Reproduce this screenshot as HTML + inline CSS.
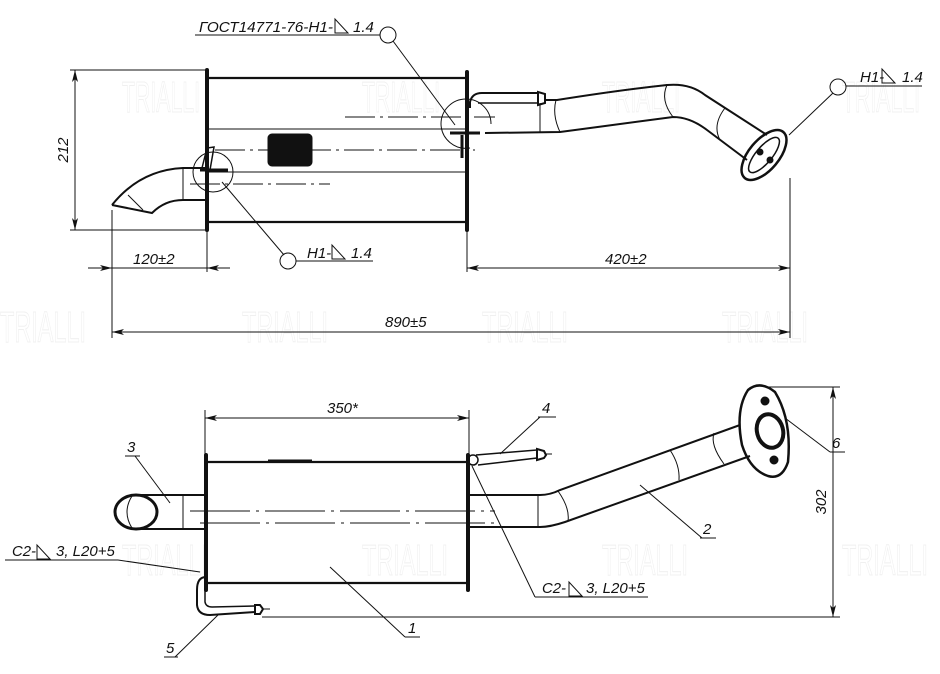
<!DOCTYPE html>
<html><head><meta charset="utf-8"><style>
html,body{margin:0;padding:0;background:#fff;}
svg{display:block;}
text{font-family:"Liberation Sans","DejaVu Sans",sans-serif;font-style:italic;fill:#111;font-size:15px;}
text.wm{font-style:normal;fill:none;stroke:#f0f0f0;stroke-width:1;font-size:44px;}
</style></head><body>
<svg width="940" height="674" viewBox="0 0 940 674" xmlns="http://www.w3.org/2000/svg">
<defs>
<marker id="a" viewBox="0 0 12 6" refX="12" refY="3" markerWidth="12" markerHeight="6" orient="auto-start-reverse" markerUnits="userSpaceOnUse"><path d="M0,0 L12,3 L0,6 L3,3Z" fill="#111"/></marker>
</defs>
<!-- watermarks -->
<g>
<text x="122" y="112" class="wm" textLength="78" lengthAdjust="spacingAndGlyphs">TRIALLI</text><text x="362" y="112" class="wm" textLength="78" lengthAdjust="spacingAndGlyphs">TRIALLI</text><text x="602" y="112" class="wm" textLength="78" lengthAdjust="spacingAndGlyphs">TRIALLI</text><text x="842" y="112" class="wm" textLength="78" lengthAdjust="spacingAndGlyphs">TRIALLI</text>
<text x="0" y="342" class="wm" textLength="86" lengthAdjust="spacingAndGlyphs">TRIALLI</text><text x="242" y="342" class="wm" textLength="86" lengthAdjust="spacingAndGlyphs">TRIALLI</text><text x="482" y="342" class="wm" textLength="86" lengthAdjust="spacingAndGlyphs">TRIALLI</text><text x="722" y="342" class="wm" textLength="86" lengthAdjust="spacingAndGlyphs">TRIALLI</text>
<text x="122" y="575" class="wm" textLength="86" lengthAdjust="spacingAndGlyphs">TRIALLI</text><text x="362" y="575" class="wm" textLength="86" lengthAdjust="spacingAndGlyphs">TRIALLI</text><text x="602" y="575" class="wm" textLength="86" lengthAdjust="spacingAndGlyphs">TRIALLI</text><text x="842" y="575" class="wm" textLength="86" lengthAdjust="spacingAndGlyphs">TRIALLI</text>
</g>
<g stroke="#111" fill="none" stroke-width="1">
<!-- TOP VIEW -->
<line x1="70" y1="70" x2="205" y2="70"/><line x1="70" y1="230" x2="205" y2="230"/>
<line x1="75" y1="70" x2="75" y2="230" marker-start="url(#a)" marker-end="url(#a)"/>
<line x1="207" y1="70" x2="207" y2="230" stroke-width="4" stroke-linecap="round"/>
<line x1="467" y1="72" x2="467" y2="230" stroke-width="4" stroke-linecap="round"/>
<line x1="209" y1="78" x2="465" y2="78" stroke-width="2.2"/>
<line x1="209" y1="222" x2="465" y2="222" stroke-width="2.2"/>
<line x1="209" y1="129" x2="465" y2="129"/>
<line x1="209" y1="172" x2="465" y2="172"/>
<line x1="215" y1="150" x2="475" y2="150" stroke-dasharray="30,5,3,5"/>
<line x1="345" y1="117" x2="495" y2="117" stroke-dasharray="30,5,3,5"/>
<line x1="190" y1="184" x2="330" y2="184" stroke-dasharray="30,5,3,5"/>
<rect x="268" y="134" width="44" height="32" rx="4" fill="#111"/>
<!-- inlet -->
<path d="M112,205 Q140,170 183,168 L205,168" stroke-width="2"/>
<path d="M112,205 L152,213 Q165,200 183,200 L205,200" stroke-width="2"/>
<line x1="128" y1="195" x2="143" y2="210"/>
<line x1="183" y1="168" x2="183" y2="200"/>
<path d="M202,168 L207,148 L214,147 L210,170Z" stroke-width="1.5"/>
<line x1="200" y1="170" x2="228" y2="170" stroke-width="3"/>
<circle cx="213" cy="172" r="20"/>
<!-- outlet top -->
<path d="M470,108 L470,102 Q472,93 482,93 L538,93" stroke-width="2"/>
<line x1="478" y1="103" x2="538" y2="103" stroke-width="1.5"/>
<path d="M538,92 L545,94 L545,103 L538,105Z" stroke-width="2"/>
<path d="M545,100 L557,100 Q620,90 667,85 Q690,83 705,95 L767,135" stroke-width="2"/>
<path d="M485,133 L560,132 Q620,124 673,117 Q690,117 707,130 L747,160" stroke-width="2"/>
<line x1="540" y1="103" x2="540" y2="133"/>
<path d="M556,100 Q552,115 560,132"/><path d="M667,85 Q660,100 673,117"/><path d="M725,108 Q712,125 720,140"/>
<ellipse cx="764" cy="155" rx="30" ry="15" transform="rotate(-50 764 155)" stroke-width="2.5"/>
<ellipse cx="764" cy="155" rx="22" ry="8" transform="rotate(-50 764 155)" stroke-width="1.5"/>
<circle cx="760" cy="152" r="3" fill="#111"/><circle cx="770" cy="160" r="3" fill="#111"/>
<line x1="450" y1="133" x2="480" y2="133" stroke-width="3"/>
<line x1="462" y1="135" x2="462" y2="158" stroke-width="3"/>
<path d="M441,124 A25,25 0 0,1 491,124 M441,124 A25,25 0 0,0 470,148"/>
<!-- dims top -->
<line x1="112" y1="210" x2="112" y2="338"/>
<line x1="207" y1="230" x2="207" y2="272"/>
<line x1="467" y1="230" x2="467" y2="272"/>
<line x1="790" y1="178" x2="790" y2="338"/>
<line x1="88" y1="268" x2="112" y2="268" marker-end="url(#a)"/>
<line x1="112" y1="268" x2="207" y2="268"/>
<line x1="230" y1="268" x2="207" y2="268" marker-end="url(#a)"/>
<line x1="467" y1="268" x2="790" y2="268" marker-start="url(#a)" marker-end="url(#a)"/>
<line x1="112" y1="332" x2="790" y2="332" marker-start="url(#a)" marker-end="url(#a)"/>
<!-- callouts top -->
<line x1="195" y1="35" x2="380" y2="35"/>
<circle cx="388" cy="35" r="8"/>
<line x1="393" y1="41" x2="455" y2="125"/>
<circle cx="288" cy="261" r="8"/>
<line x1="222" y1="182" x2="284" y2="255"/>
<line x1="296" y1="261" x2="373" y2="261"/>
<circle cx="838" cy="87" r="8"/>
<line x1="846" y1="86" x2="922" y2="86"/>
<line x1="833" y1="93" x2="789" y2="135"/>

<!-- BOTTOM VIEW -->
<line x1="205" y1="410" x2="205" y2="455"/><line x1="469" y1="410" x2="469" y2="455"/>
<line x1="205" y1="418" x2="469" y2="418" marker-start="url(#a)" marker-end="url(#a)"/>
<line x1="206" y1="455" x2="206" y2="590" stroke-width="4" stroke-linecap="round"/>
<line x1="468" y1="455" x2="468" y2="590" stroke-width="4" stroke-linecap="round"/>
<line x1="208" y1="462" x2="466" y2="462" stroke-width="2.2"/>
<line x1="208" y1="583" x2="466" y2="583" stroke-width="2.2"/>
<line x1="268" y1="461" x2="312" y2="461" stroke-width="3"/>
<line x1="190" y1="511" x2="495" y2="511" stroke-dasharray="60,6,3,6"/>
<line x1="200" y1="523" x2="495" y2="523" stroke-dasharray="60,6,3,6"/>
<!-- left pipe -->
<ellipse cx="136" cy="512" rx="21" ry="17" stroke-width="3"/>
<path d="M132,496 Q122,512 132,528"/>
<line x1="136" y1="495" x2="204" y2="495" stroke-width="2"/>
<line x1="136" y1="529" x2="204" y2="529" stroke-width="2"/>
<line x1="183" y1="495" x2="183" y2="529"/>
<!-- right pipe -->
<path d="M470,495 L540,495 Q550,495 560,490 L740,425" stroke-width="2"/>
<path d="M470,527 L540,527 Q550,527 565,522 L750,456" stroke-width="2"/>
<line x1="538" y1="495" x2="538" y2="527"/>
<path d="M558,491 Q570,508 568,521"/><path d="M670,450 Q680,465 679,480"/><path d="M714,433 Q710,445 724,464"/>
<path d="M748,390 Q760,380 775,392 Q792,420 788,462 Q782,480 768,476 Q750,470 742,445 Q735,410 748,390Z" stroke-width="2.5"/>
<ellipse cx="770" cy="431" rx="13" ry="17" transform="rotate(-15 770 431)" stroke-width="4"/>
<circle cx="765" cy="401" r="4" fill="#111"/><circle cx="774" cy="460" r="4" fill="#111"/>
<!-- bracket 4 -->
<circle cx="473" cy="460" r="5" stroke-width="1.5"/>
<path d="M476,455 L537,450 M478,465 L537,458" stroke-width="1.5"/>
<path d="M537,449 L544,451 L546,455 L544,458 L537,460Z" stroke-width="2"/>
<line x1="546" y1="454" x2="552" y2="454"/>
<!-- bracket 5 -->
<path d="M206,577 Q197,577 197,590 L197,605 Q198,615 210,615 L255,612" stroke-width="2"/>
<path d="M205,588 L205,602 Q206,607 212,607 L255,606" stroke-width="1.5"/>
<path d="M255,605 L260,605 L263,609 L260,614 L255,614Z" stroke-width="2"/>
<line x1="263" y1="609" x2="270" y2="609"/>
<!-- dim 302 -->
<line x1="765" y1="387" x2="840" y2="387"/>
<line x1="262" y1="617" x2="840" y2="617"/>
<line x1="833" y1="387" x2="833" y2="617" marker-start="url(#a)" marker-end="url(#a)"/>
<!-- leaders bottom -->
<line x1="125" y1="456" x2="140" y2="456"/><line x1="135" y1="456" x2="170" y2="503"/>
<line x1="538" y1="417" x2="556" y2="417"/><line x1="540" y1="417" x2="500" y2="454"/>
<line x1="830" y1="452" x2="845" y2="452"/><line x1="830" y1="452" x2="785" y2="418"/>
<line x1="700" y1="538" x2="716" y2="538"/><line x1="702" y1="538" x2="640" y2="485"/>
<line x1="405" y1="637" x2="420" y2="637"/><line x1="405" y1="637" x2="330" y2="567"/>
<line x1="164" y1="657" x2="178" y2="657"/><line x1="175" y1="657" x2="218" y2="615"/>
<line x1="5" y1="560" x2="118" y2="560"/><line x1="118" y1="560" x2="200" y2="572"/>
<line x1="535" y1="597" x2="648" y2="597"/><line x1="535" y1="597" x2="472" y2="466"/>
</g>
<!-- weld triangles -->
<g stroke="#111" fill="none" stroke-width="1">
<path d="M335,19 L335,33 L348,33Z"/>
<path d="M332,245 L332,259 L345,259Z"/>
<path d="M882,69 L882,83 L895,83Z"/>
<path d="M37,545 L37,559 L50,559Z"/>
<path d="M569,582 L569,596 L582,596Z"/>
</g>
<text x="199" y="32" textLength="134" lengthAdjust="spacingAndGlyphs">ГОСТ14771-76-Н1-</text><text x="353" y="32">1.4</text>
<text x="307" y="258">Н1-</text><text x="351" y="258">1.4</text>
<text x="860" y="82">Н1-</text><text x="902" y="82">1.4</text>
<text x="133" y="264">120±2</text>
<text x="605" y="264">420±2</text>
<text x="385" y="327">890±5</text>
<text x="0" y="0" transform="translate(68,150) rotate(-90)" text-anchor="middle">212</text>
<text x="327" y="413">350*</text>
<text x="127" y="452">3</text>
<text x="542" y="413">4</text>
<text x="832" y="448">6</text>
<text x="703" y="534">2</text>
<text x="408" y="633">1</text>
<text x="166" y="653">5</text>
<text x="12" y="556" textLength="24" lengthAdjust="spacingAndGlyphs">С2-</text><text x="56" y="556">3, L20+5</text>
<text x="542" y="593" textLength="24" lengthAdjust="spacingAndGlyphs">С2-</text><text x="586" y="593">3, L20+5</text>
<text x="0" y="0" transform="translate(826,502) rotate(-90)" text-anchor="middle">302</text>
</svg>
</body></html>
